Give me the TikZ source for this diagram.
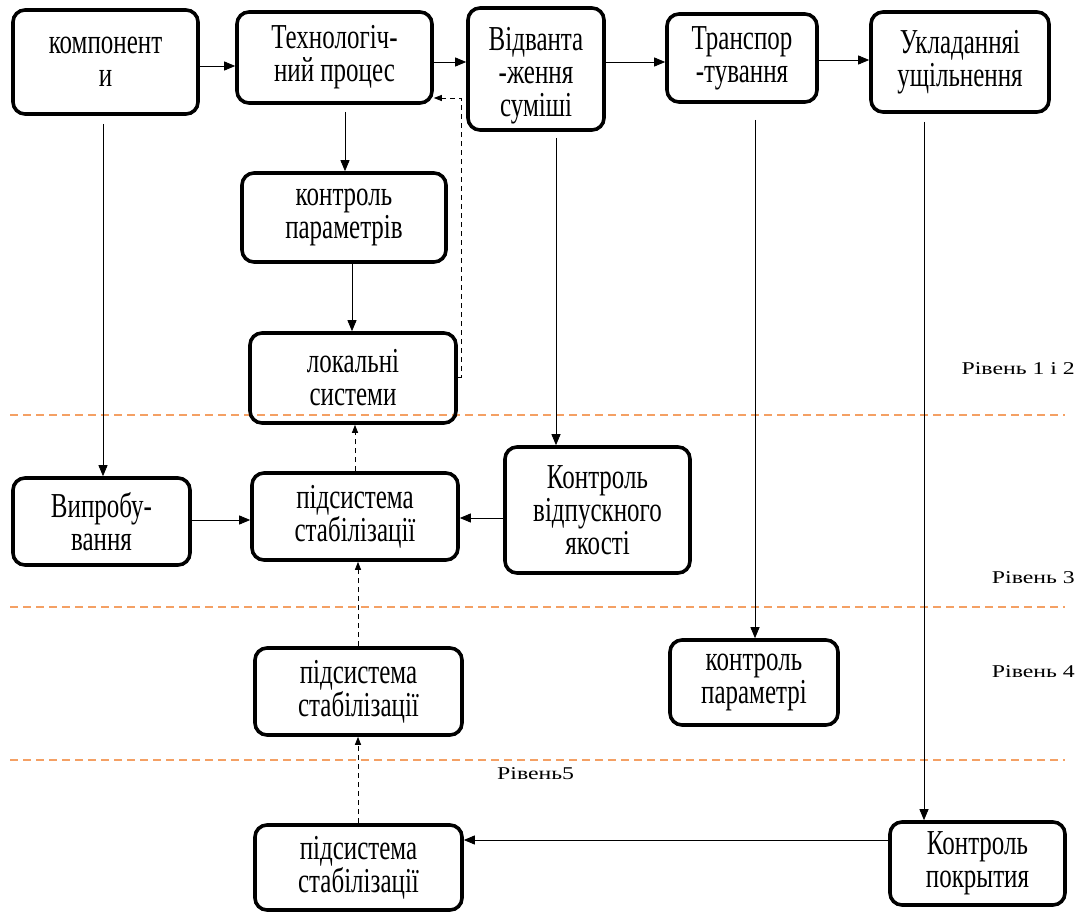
\documentclass[tikz,border=0pt]{standalone}
\usepackage{graphicx}
\usepackage{fontspec}
\setmainfont{Liberation Serif}
\usetikzlibrary{arrows.meta}
\definecolor{lvl}{RGB}{244,160,100}
\newcommand\bt[1]{\scalebox{1}[1.4]{\vbox{\fontsize{25}{23.5}\selectfont\lineskiplimit=-50pt\lineskip=0pt\halign{\hfil##\hfil\cr#1\crcr}}}}
\newcommand\lv[1]{\scalebox{1.32}[1]{\fontsize{18}{20}\selectfont #1}}
\tikzset{
  box/.style={draw, line width=3.6pt, rounded corners=12pt, align=center, inner sep=0pt},
  conn/.style={line width=0.9pt, -{Triangle[length=11pt,width=9pt]}},
  dconn/.style={line width=0.9pt, dash pattern=on 5pt off 4pt, -{Triangle[length=8pt,width=6pt]}},
  level/.style={draw=lvl, line width=1.6pt, dash pattern=on 8pt off 5pt},
  lbl/.style={inner sep=0pt}
}
\begin{document}
\begin{tikzpicture}[x=1pt,y=-1pt]
\useasboundingbox (0,0) rectangle (1077,915);
% level lines
\draw[level] (10,415) coordinate (l1a) -- (1065,415) coordinate (l1b);
\draw[level] (10,607) coordinate (l2a) -- (1065,607) coordinate (l2b);
\draw[level] (10,760) coordinate (l3a) -- (1065,760) coordinate (l3b);
% boxes
\node[box, minimum width=185pt, minimum height=104pt] (komp) at (105.5,62) {\bt{компонент\cr и}};
\node[box, minimum width=195pt, minimum height=91pt] (tech) at (334.5,57.5) {\bt{Технологіч-\cr ний процес}};
\node[box, minimum width=136pt, minimum height=122pt] (vidv) at (536,69) {};
\node[anchor=center, inner sep=0pt] (vidvt) at (536,76) {\bt{Відванта\cr -ження\cr суміші}};
\node[box, minimum width=150pt, minimum height=88pt] (trans) at (742,58) {\bt{Транспор\cr -тування}};
\node[box, minimum width=178pt, minimum height=100pt] (ukl) at (960,62) {\bt{Укладанняі\cr ущільнення}};
\node[box, minimum width=204pt, minimum height=89pt] (kpar) at (344,217.5) {\bt{контроль\cr параметрів}};
\node[box, minimum width=206pt, minimum height=90pt] (lok) at (353,378) {\bt{локальні\cr системи}};
\node[box, minimum width=177pt, minimum height=87pt] (vypr) at (101.5,521.5) {\bt{Випробу-\cr вання}};
\node[box, minimum width=206pt, minimum height=87pt] (pid1) at (355,516.5) {\bt{підсистема\cr стабілізації}};
\node[box, minimum width=185pt, minimum height=126pt] (kvid) at (597.5,510) {\bt{Контроль\cr відпускного\cr якості}};
\node[box, minimum width=168pt, minimum height=85pt] (kpar2) at (754,682.5) {\bt{контроль\cr параметрі}};
\node[box, minimum width=207pt, minimum height=87pt] (pid2) at (358.5,691.5) {\bt{підсистема\cr стабілізації}};
\node[box, minimum width=207pt, minimum height=85pt] (pid3) at (358.5,867.5) {\bt{підсистема\cr стабілізації}};
\node[box, minimum width=175pt, minimum height=83pt] (kpok) at (977.5,863.5) {\bt{Контроль\cr покрытия}};
% level labels
\node[lbl, anchor=east] (t12) at (1075,369) {\lv{Рівень 1 і 2}};
\node[lbl, anchor=east] (t3) at (1075,578) {\lv{Рівень 3}};
\node[lbl, anchor=east] (t4) at (1075,672) {\lv{Рівень 4}};
\node[lbl, anchor=west] (t5) at (497,774) {\lv{Рівень5}};
% top row arrows
\draw[conn] (komp.east |- 0,66) -- (tech.west |- 0,66);
\draw[conn] (tech.east |- 0,62) -- (vidv.west |- 0,62);
\draw[conn] (vidv.east |- 0,62) -- (trans.west |- 0,62);
\draw[conn] (trans.east |- 0,60) -- (ukl.west |- 0,60);
% verticals
\draw[conn, shorten <=8pt] (komp.south -| 103,0) -- (vypr.north -| 103,0);
\draw[conn, shorten <=7pt] (tech.south -| 345,0) -- (kpar.north -| 345,0);
\draw[conn] (kpar.south -| 352,0) -- (lok.north -| 352,0);
\draw[conn, shorten <=6pt] (vidv.south -| 556,0) -- (kvid.north -| 556,0);
\draw[conn, shorten <=16pt] (trans.south -| 755,0) -- (kpar2.north -| 755,0);
\draw[conn, shorten <=8pt] (ukl.south -| 924,0) -- (kpok.north -| 924,0);
% horizontals
\draw[conn] (vypr.east |- 0,520) -- (pid1.west |- 0,520);
\draw[conn] (kvid.west |- 0,518) -- (pid1.east |- 0,518);
\draw[conn] (kpok.west |- 0,840) -- (pid3.east |- 0,840);
% dashed
\coordinate (fb) at (461,377);
\draw[dconn] (lok.east |- fb) -- (fb) |- (tech.east |- 0,98);
\draw[dconn] (pid1.north -| 355,0) -- (lok.south -| 355,0);
\draw[dconn] (pid2.north -| 358,0) -- (pid1.south -| 358,0);
\draw[dconn] (pid3.north -| 358,0) -- (pid2.south -| 358,0);
\end{tikzpicture}
\end{document}
